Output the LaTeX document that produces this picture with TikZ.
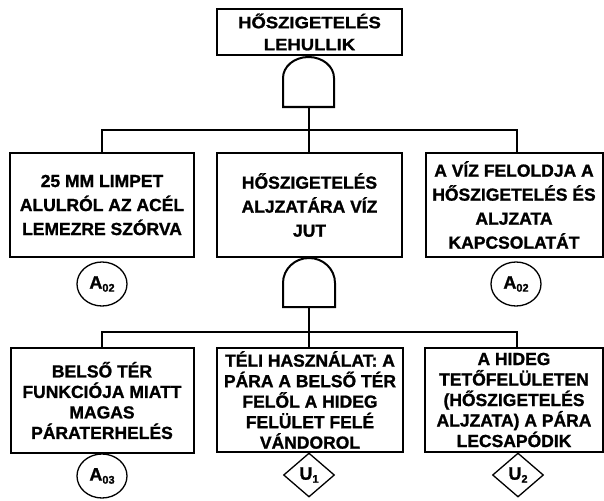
\documentclass[tikz,border=0pt]{standalone}
\usepackage{fontspec}
\setmainfont{Liberation Sans}[BoldFeatures={FakeBold=1.2}]
\newfontfamily\widefont[FakeStretch=1.12,BoldFeatures={FakeBold=1.2}]{Liberation Sans}
\usetikzlibrary{shapes.geometric}
\tikzset{
  box/.style={draw, line width=2pt, align=center, inner sep=2pt},
  lvlone/.style={font=\widefont\bfseries\fontsize{16.5}{22}\selectfont},
  lvltwo/.style={font=\bfseries\fontsize{17.5}{24}\selectfont},
  lvlthree/.style={font=\bfseries\fontsize{17.5}{20.5}\selectfont},
  conn/.style={line width=2pt},
  gatestyle/.style={line width=2pt, fill=white},
  evcircle/.style={draw, ellipse, line width=1.3pt, minimum width=50pt, minimum height=44pt, inner sep=0pt, font=\bfseries\fontsize{18}{18}\selectfont},
  evdiamond/.style={draw, diamond, line width=1.3pt, minimum width=51pt, minimum height=44pt, inner sep=0pt, font=\bfseries\fontsize{18}{18}\selectfont}
}
\newcommand{\sbx}[1]{\raisebox{-3pt}{\fontsize{11}{11}\selectfont #1}}
\begin{document}
\begin{tikzpicture}[x=1pt,y=-1pt]
\useasboundingbox (0,0) rectangle (604,500);
% top event
\node[box, lvlone, minimum width=185pt, minimum height=46pt] (top) at (309.5,32) {HŐSZIGETELÉS\\LEHULLIK};
% level 2 boxes
\node[box, lvltwo, minimum width=184pt, minimum height=104pt] (b21) at (102,205) {25 MM LIMPET\\ALULRÓL AZ ACÉL\\LEMEZRE SZÓRVA};
\node[box, lvltwo, minimum width=185pt, minimum height=104pt] (b22) at (309.5,205) {HŐSZIGETELÉS\\ALJZATÁRA VÍZ\\JUT};
\node[box, lvltwo, minimum width=177pt, minimum height=104pt] (b23) at (514,205) {A VÍZ FELOLDJA A\\HŐSZIGETELÉS ÉS\\ALJZATA\\KAPCSOLATÁT};
% level 3 boxes
\node[box, lvlthree, minimum width=183pt, minimum height=105pt] (b31) at (102,400.5) {BELSŐ TÉR\\FUNKCIÓJA MIATT\\MAGAS\\PÁRATERHELÉS};
\node[box, lvlthree, minimum width=186pt, minimum height=104pt] (b32) at (310,400) {TÉLI HASZNÁLAT: A\\PÁRA A BELSŐ TÉR\\FELŐL A HIDEG\\FELÜLET FELÉ\\VÁNDOROL};
\node[box, lvlthree, minimum width=178pt, minimum height=104pt] (b33) at (514,400) {A HIDEG\\TETŐFELÜLETEN\\(HŐSZIGETELÉS\\ALJZATA) A PÁRA\\LECSAPÓDIK};
% gate 1
\draw[gatestyle] (283,107) -- (283,78) arc[start angle=180, end angle=0, x radius=25.5pt, y radius=21pt] -- (334,107) -- cycle;
\coordinate (g1b) at (309,107);
% gate 2
\draw[gatestyle] (283,307) -- (283,283) arc[start angle=180, end angle=0, x radius=26pt, y radius=25pt] -- (335,307) -- cycle;
\coordinate (g2b) at (309,307);
% connectors
\coordinate (j1) at (309,130);
\coordinate (j2) at (309,332);
\draw[conn] (g1b) -- (j1);
\draw[conn] (b21.north) |- (j1) -| ([xshift=3pt]b23.north);
\draw[conn] (j1) -- (b22.north -| j1);
\draw[conn] (g2b) -- (j2);
\draw[conn] (b31.north) |- (j2) -| ([xshift=3pt]b33.north);
\draw[conn] (j2) -- (b32.north -| j2);
% basic events
\node[evcircle] (e1) at (102,284) {A\sbx{02}};
\node[evcircle] (e2) at (516,284) {A\sbx{02}};
\node[evcircle] (e3) at (102,476) {A\sbx{03}};
\node[evdiamond] (u1) at (309,475) {U\sbx{1}};
\node[evdiamond] (u2) at (518,475) {U\sbx{2}};
\end{tikzpicture}
\end{document}
